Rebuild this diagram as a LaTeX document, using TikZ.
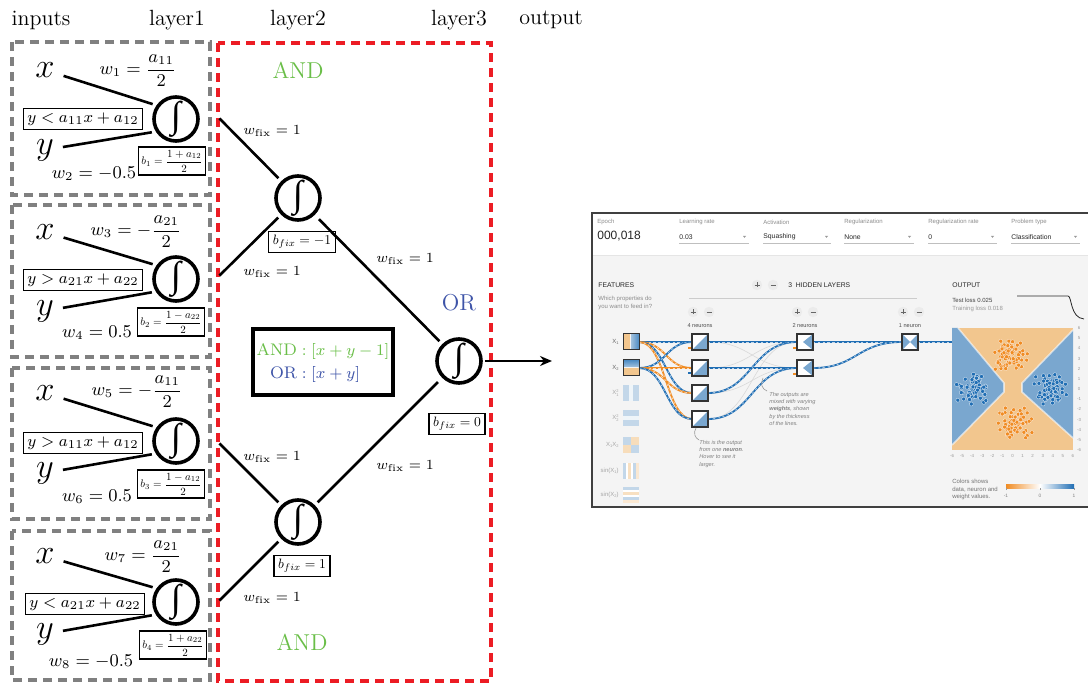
\documentclass[tikz,border=0pt]{standalone}
\usepackage{amsmath}
\usepackage{graphicx}
\usepackage{fontspec}
\newfontfamily\uifont{Liberation Sans}
\newfontfamily\intfont{Liberation Serif}
\usetikzlibrary{arrows.meta}

\definecolor{andgreen}{RGB}{106,190,72}
\definecolor{orblue}{RGB}{62,84,168}
\definecolor{boxred}{RGB}{236,28,36}
\definecolor{pgblue}{RGB}{32,110,180}
\definecolor{pgorange}{RGB}{240,140,36}
\definecolor{pgsky}{RGB}{122,167,207}
\definecolor{pgsand}{RGB}{242,198,142}
\definecolor{pgbg}{RGB}{244,244,244}

\newcommand{\nint}{\makebox[0pt]{\smash{\raisebox{-.5\height}{\raisebox{\depth}{\intfont\fontsize{18.5}{19}\selectfont ∫}}}}}
\newcommand{\ui}[2]{\uifont\fontsize{#1}{#2}\selectfont}
\newcommand{\bmath}[2]{\scalebox{#1}{$\displaystyle #2$}}
\newcommand{\lo}[1]{\raisebox{-0.35ex}{\fontsize{2}{2}\selectfont #1}}
\newcommand{\hi}[1]{\rlap{\raisebox{0.7ex}{\fontsize{2}{2}\selectfont #1}}}

\begin{document}
\begin{tikzpicture}[x=0.5pt, y=-0.5pt,
  head/.style={font=\fontsize{11}{13}\selectfont},
  var/.style={font=\LARGE},
  neuron/.style={draw, circle, line width=1.8pt, minimum size=22pt, inner sep=0pt},
  wire/.style={line width=1.3pt, shorten <=1pt, shorten >=2pt},
  wlab/.style={font=\small},
  fixlab/.style={font=\scriptsize},
  condbox/.style={draw, line width=0.7pt, inner sep=2pt, font=\footnotesize},
  biasbox/.style={draw, line width=0.7pt, inner sep=1.5pt},
  fixbox/.style={draw, line width=0.7pt, inner sep=2pt},
  inbox/.style={draw=black!50, line width=2.4pt, dash pattern=on 4.5pt off 3pt},
  hidbox/.style={draw=boxred, line width=2.2pt, dash pattern=on 4.5pt off 3pt},
  gate/.style={font=\fontsize{11.5}{13}\selectfont},
  uilab/.style={font=\ui{3}{3.6}, text=black!45, anchor=west, inner sep=0pt},
  uival/.style={font=\ui{3.4}{4}, text=black!85, anchor=west, inner sep=0pt},
  uihead/.style={font=\ui{3.4}{4}, text=black!85, anchor=west, inner sep=0pt},
  uinote/.style={font=\ui{2.8}{3.6}\itshape, text=black!50, align=left, anchor=north west, inner sep=0pt},
  featlab/.style={font=\ui{3}{3.4}, anchor=east, inner sep=0pt},
  pgedge/.style={line width=0.9pt, postaction={draw=white, draw opacity=0.7, line width=0.3pt, dash pattern=on 1.2pt off 1.2pt}},
]
\useasboundingbox (0,0) rectangle (1088,684);

% Headers
\node[head] (hin)  at (41,20)  {inputs};
\node[head] (hl1)  at (177,20) {layer1};
\node[head] (hl2)  at (298,20) {layer2};
\node[head] (hl3)  at (459,20) {layer3};
\node[head] (hout) at (551,20) {output};

% Dashed groups
\draw[inbox] (12,42) rectangle (210,195);
\draw[inbox] (12,205) rectangle (210,357);
\draw[inbox] (12,368) rectangle (210,519);
\draw[inbox] (12,531) rectangle (210,680);
\draw[hidbox] (218,43) rectangle (491,681);

% Layer 1, unit 1
\node[var] (x1) at (45,70) {$x$};
\node[var] (y1) at (45,150) {$y$};
\node[neuron] (n1) at (176,119) {\nint};
\node[condbox] (c1) at (83,119) {$y < a_{11}x + a_{12}$};
\node[biasbox] (b1) at (172,161) {\bmath{0.55}{b_1 = \frac{1+a_{12}}{2}}};
\node[wlab] (w1) at (138,71) {$w_1 = \dfrac{a_{11}}{2}$};
\node[wlab] (w2) at (94,174) {$w_2 = -0.5$};
\draw[wire] (x1) -- (n1.145);
\draw[wire] (y1) -- (n1.212);

% Layer 1, unit 2
\node[var] (x2) at (45,232) {$x$};
\node[var] (y2) at (45,311) {$y$};
\node[neuron] (n2) at (176,279) {\nint};
\node[condbox] (c2) at (83,280) {$y > a_{21}x + a_{22}$};
\node[biasbox] (b2) at (171,322) {\bmath{0.55}{b_2 = \frac{1-a_{22}}{2}}};
\node[wlab] (w3) at (136,232) {$w_3 = -\dfrac{a_{21}}{2}$};
\node[wlab] (w4) at (97,333) {$w_4 = 0.5$};
\draw[wire] (x2) -- (n2.145);
\draw[wire] (y2) -- (n2.212);

% Layer 1, unit 3
\node[var] (x3) at (45,393) {$x$};
\node[var] (y3) at (45,473) {$y$};
\node[neuron] (n3) at (176,441) {\nint};
\node[condbox] (c3) at (83,443) {$y > a_{11}x + a_{12}$};
\node[biasbox] (b3) at (171,484) {\bmath{0.55}{b_3 = \frac{1-a_{12}}{2}}};
\node[wlab] (w5) at (137,392) {$w_5 = -\dfrac{a_{11}}{2}$};
\node[wlab] (w6) at (97,497) {$w_6 = 0.5$};
\draw[wire] (x3) -- (n3.145);
\draw[wire] (y3) -- (n3.212);

% Layer 1, unit 4
\node[var] (x4) at (45,556) {$x$};
\node[var] (y4) at (45,634) {$y$};
\node[neuron] (n4) at (176,602) {\nint};
\node[condbox] (c4) at (85,604) {$y < a_{21}x + a_{22}$};
\node[biasbox] (b4) at (173,645) {\bmath{0.55}{b_4 = \frac{1+a_{22}}{2}}};
\node[wlab] (w7) at (143,557) {$w_7 = \dfrac{a_{21}}{2}$};
\node[wlab] (w8) at (91,662) {$w_8 = -0.5$};
\draw[wire] (x4) -- (n4.145);
\draw[wire] (y4) -- (n4.212);

% Layers 2 and 3
\coordinate (o1) at (218,117);
\coordinate (o2) at (218,277);
\coordinate (o3) at (218,442);
\coordinate (o4) at (218,602);
\node[neuron] (and1) at (298,198) {\nint};
\node[neuron] (and2) at (298,522) {\nint};
\node[neuron] (or)   at (459,361) {\nint};
\node[fixbox] (bf1) at (302,242) {\bmath{0.68}{b_{fix} = -1}};
\node[fixbox] (bf2) at (302,566) {\bmath{0.68}{b_{fix} = 1}};
\node[fixbox] (bf3) at (457,424) {\bmath{0.68}{b_{fix} = 0}};
\draw[wire] (o1) -- (and1);
\draw[wire] (o2) -- (and1);
\draw[wire] (o3) -- (and2);
\draw[wire] (o4) -- (and2);
\draw[wire, shorten <=3pt] (and1) -- (or);
\draw[wire, shorten <=3pt] (or) -- (and2);
\node[fixlab] (f1) at (272,131) {$w_{\mathrm{fix}} = 1$};
\node[fixlab] (f2) at (272,272) {$w_{\mathrm{fix}} = 1$};
\node[fixlab] (f3) at (272,457) {$w_{\mathrm{fix}} = 1$};
\node[fixlab] (f4) at (272,598) {$w_{\mathrm{fix}} = 1$};
\node[fixlab] (f5) at (405,259) {$w_{\mathrm{fix}} = 1$};
\node[fixlab] (f6) at (405,466) {$w_{\mathrm{fix}} = 1$};
\node[gate, text=andgreen] (gand1) at (298,70) {AND};
\node[gate, text=andgreen] (gand2) at (302,642) {AND};
\node[gate, text=orblue] (gor) at (459,303) {OR};
\node[draw, line width=2pt, minimum width=70pt, minimum height=33pt, inner sep=2pt,
      font=\fontsize{8.4}{11.5}\selectfont] (key) at (323,362)
  {\begin{tabular}{@{}r@{}l@{}}
   \textcolor{andgreen}{AND} & \textcolor{andgreen}{${}:[x+y-1]$}\\
   \textcolor{orblue}{OR} & \textcolor{orblue}{${}:[x+y]$}
   \end{tabular}};

% Output arrow
\coordinate (shot) at (556,361);
\draw[wire, -{Stealth[length=6pt, width=5pt]}] (or) -- (shot);

% Playground screenshot
\fill[white] (592,213) rectangle (1095,255);
\fill[pgbg] (592,255) rectangle (1095,507);
\draw[black!10, line width=0.4pt] (592,255) -- (1095,255);

\node[uilab] (lep) at (597,222) {Epoch};
\node[font=\ui{6}{7}, text=black!85, anchor=west, inner sep=0pt] (vep) at (597,236) {000,018};
\node[uilab] (llr) at (679,222) {Learning rate};
\node[uival] (vlr) at (679,237) {0.03};
\node[uilab] (lac) at (763,222) {Activation};
\node[uival] (vac) at (763,237) {Squashing};
\node[uilab] (lrg) at (844,222) {Regularization};
\node[uival] (vrg) at (844,237) {None};
\node[uilab] (lrr) at (928,222) {Regularization rate};
\node[uival] (vrr) at (928,237) {0};
\node[uilab] (lpt) at (1011,222) {Problem type};
\node[uival] (vpt) at (1011,237) {Classification};
\foreach \ua/\ub in {679/749, 763/831, 844/914, 928/997, 1011/1080} {
  \draw[black!25, line width=0.3pt] (\ua,243) -- (\ub,243);
  \fill[black!40] (\ub-6,236) -- ++(3,0) -- ++(-1.5,1.8) -- cycle;
}

% features column
\node[uihead] (feat) at (598,285) {FEATURES};
\node[uinote, font=\ui{3}{4}, text=black!45] (featq) at (598,296) {Which properties do\\you want to feed in?};

% hidden layer controls
\foreach \bx/\by in {757/285, 693/312, 797/312, 903/312} {
  \fill[black!8] (\bx,\by) circle (2.6pt);
  \fill[black!8] (\bx+16,\by) circle (2.6pt);
  \draw[black!60, line width=0.3pt] (\bx-2.5,\by) -- (\bx+2.5,\by) (\bx,\by-2.5) -- (\bx,\by+2.5);
  \draw[black!60, line width=0.3pt] (\bx+13.5,\by) -- (\bx+18.5,\by);
}
\node[uihead] (hid) at (788,285) {3\ \ HIDDEN LAYERS};
\draw[black!20, line width=0.3pt] (689,298) -- (917,298);
\node[font=\ui{2.8}{3.4}, text=black!70] (cnt1) at (700,326) {4 neurons};
\node[font=\ui{2.8}{3.4}, text=black!70] (cnt2) at (805,326) {2 neurons};
\node[font=\ui{2.8}{3.4}, text=black!70] (cnt3) at (910,326) {1 neuron};

% faint links
\foreach \a/\b in {342/368, 368/342, 393/368, 419/342} {
  \draw[black!15, line width=0.3pt] (708,\a) .. controls (752,\a) and (752,\b) .. (797,\b);
}
% input links
\foreach \a/\b/\c in {342/342/pgblue, 342/368/pgorange, 342/393/pgblue, 342/419/pgorange,
                      368/342/pgblue, 368/368/pgorange, 368/393/pgorange, 368/419/pgblue} {
  \draw[pgedge, draw=\c] (639,\a) .. controls (666,\a) and (666,\b) .. (692,\b);
}
% hidden links
\foreach \a/\b in {342/342, 368/368, 393/342, 419/368} {
  \draw[pgedge, draw=pgblue] (708,\a) .. controls (752,\a) and (752,\b) .. (797,\b);
}
\foreach \a in {342, 368} {
  \draw[pgedge, draw=pgblue] (813,\a) .. controls (857,\a) and (857,342) .. (902,342);
}
\draw[pgedge, draw=pgblue, line width=1.4pt] (918,342) -- (952,342);

% feature tiles
\fill[pgsand] (623,334) rectangle (630,350);
\shade[left color=pgsky!70, right color=pgblue!80] (631,334) rectangle (639,350);
\draw[black!80, line width=0.5pt] (623,334) rectangle (639,350);
\shade[top color=pgblue!80, bottom color=pgsky!70] (623,360) rectangle (639,367);
\fill[pgsand] (623,368) rectangle (639,376);
\draw[black!80, line width=0.5pt] (623,360) rectangle (639,376);
\fill[pgsky!45] (623,385) rectangle (639,401);
\fill[pgsky!12] (629,385) rectangle (633,401);
\fill[pgsky!45] (623,410) rectangle (639,426);
\fill[pgsky!12] (623,416) rectangle (639,420);
\fill[pgsky!45] (623,437) rectangle (631,445);
\fill[pgsand!60] (631,437) rectangle (639,445);
\fill[pgsand!60] (623,445) rectangle (631,453);
\fill[pgsky!45] (631,445) rectangle (639,453);
\foreach \s/\c in {623/pgsky!45, 626/white, 628/pgsand!55, 631/white, 633/pgsky!45, 636/pgsand!40} {
  \fill[\c] (\s,463) rectangle ++(3,16);
  \fill[\c] (623,\s-136) rectangle ++(16,3);
}
\node[featlab, text=black!60] (fx1) at (619,342) {X\lo{1}};
\node[featlab, text=black!60] (fx2) at (619,368) {X\lo{2}};
\node[featlab, text=black!35] (fx3) at (619,393) {X\hi{2}\lo{1}};
\node[featlab, text=black!35] (fx4) at (619,418) {X\hi{2}\lo{2}};
\node[featlab, text=black!35] (fx5) at (619,445) {X\lo{1}X\lo{2}};
\node[featlab, text=black!35] (fx6) at (619,471) {sin(X\lo{1})};
\node[featlab, text=black!35] (fx7) at (619,495) {sin(X\lo{2})};

% neuron tiles
\foreach \ny in {342, 368, 393, 419} {
  \fill[white] (692,\ny-8) rectangle (708,\ny+8);
  \fill[pgsky] (708,\ny-8) -- (708,\ny+8) -- (692,\ny+8) -- cycle;
  \draw[black!80, line width=0.6pt] (692,\ny-8) rectangle (708,\ny+8);
}
\foreach \ny in {342, 368} {
  \fill[white] (797,\ny-8) rectangle (813,\ny+8);
  \fill[pgsky] (813,\ny-8) -- (813,\ny+8) -- (803,\ny) -- cycle;
  \draw[black!80, line width=0.6pt] (797,\ny-8) rectangle (813,\ny+8);
}
\fill[white] (902,334) rectangle (918,350);
\fill[pgsky] (902,334) -- (910,342) -- (902,350) -- cycle;
\fill[pgsky] (918,334) -- (910,342) -- (918,350) -- cycle;
\draw[black!80, line width=0.6pt] (902,334) rectangle (918,350);
\fill[pgorange] (688,347) rectangle (690.5,349.5);
\fill[pgblue] (688,372) rectangle (690.5,374.5);
\fill[pgorange] (793,347) rectangle (795.5,349.5);
\fill[pgorange] (793,373) rectangle (795.5,375.5);

% notes
\draw[black!40, line width=0.3pt] (763,378) .. controls (760,384) and (762,389) .. (767,391);
\node[uinote] (note1) at (769,392) {The outputs are\\mixed with varying\\\textbf{weights}, shown\\by the thickness\\of the lines.};
\draw[black!40, line width=0.3pt] (696,428) .. controls (693,433) and (695,438) .. (699,440);
\node[uinote] (note2) at (699,440) {This is the output\\from one \textbf{neuron}.\\Hover to see it\\larger.};

% output panel
\node[uihead] (outh) at (952,285) {OUTPUT};
\node[font=\ui{3}{3.6}, text=black!75, anchor=west, inner sep=0pt] (tloss) at (952,300) {Test loss 0.025};
\node[font=\ui{3}{3.6}, text=black!40, anchor=west, inner sep=0pt] (trloss) at (952,309) {Training loss 0.018};
\draw[black!85, line width=0.4pt] (1017,296) -- (1068,296) .. controls (1072,296) and (1070,318) .. (1084,319);

\fill[pgsand] (952,328) rectangle (1073,450);
\fill[pgsky] (952,328) -- (958,328) -- (1004,383) -- (1004,392) -- (952,445) -- cycle;
\fill[pgsky] (1073,330) -- (1022,383) -- (1022,392) -- (1073,438) -- cycle;
\draw[white, opacity=0.6, line width=0.8pt] (958,328) -- (1004,383) -- (1004,392) -- (952,445);
\draw[white, opacity=0.6, line width=0.8pt] (1073,330) -- (1022,383) -- (1022,392) -- (1073,438);
\pgfmathsetseed{42}
\foreach \cx/\cy/\c in {1012/356/pgorange, 1015/422/pgorange, 973/390/pgblue, 1050/389/pgblue} {
  \foreach \i in {1,...,75} {
    \pgfmathsetmacro\dx{9*(rand+rand)}
    \pgfmathsetmacro\dy{8.5*(rand+rand)}
    \filldraw[fill=\c, draw=white, line width=0.12pt] (\cx+\dx,\cy+\dy) circle (1pt);
  }
}
\foreach \v [count=\k from 0] in {6,5,...,-6} {
  \node[font=\ui{2.2}{2.6}, text=black!40] (ay\k) at (1079,328+\k*10.17) {\v};
}
\foreach \v [count=\k from 0] in {-6,-5,...,6} {
  \node[font=\ui{2.2}{2.6}, text=black!40] (ax\k) at (952+\k*10.08,456) {\v};
}

% colour legend
\node[uinote, font=\ui{3}{3.75}, text=black!55] (cleg) at (952,479) {Colors shows\\data, neuron and\\weight values.};
\shade[left color=pgorange, right color=pgblue, middle color=white] (1006,484) rectangle (1074,488);
\foreach \tx/\tv in {1006/-1, 1040/0, 1074/1} {
  \draw[black!40, line width=0.2pt] (\tx,488) -- (\tx,490);
  \node[font=\ui{2.4}{2.8}, text=black!50] (lg\tx) at (\tx,496) {\tv};
}

% frame
\draw[black!75, line width=1pt] (592,213) rectangle (1095,507);
\end{tikzpicture}
\end{document}
